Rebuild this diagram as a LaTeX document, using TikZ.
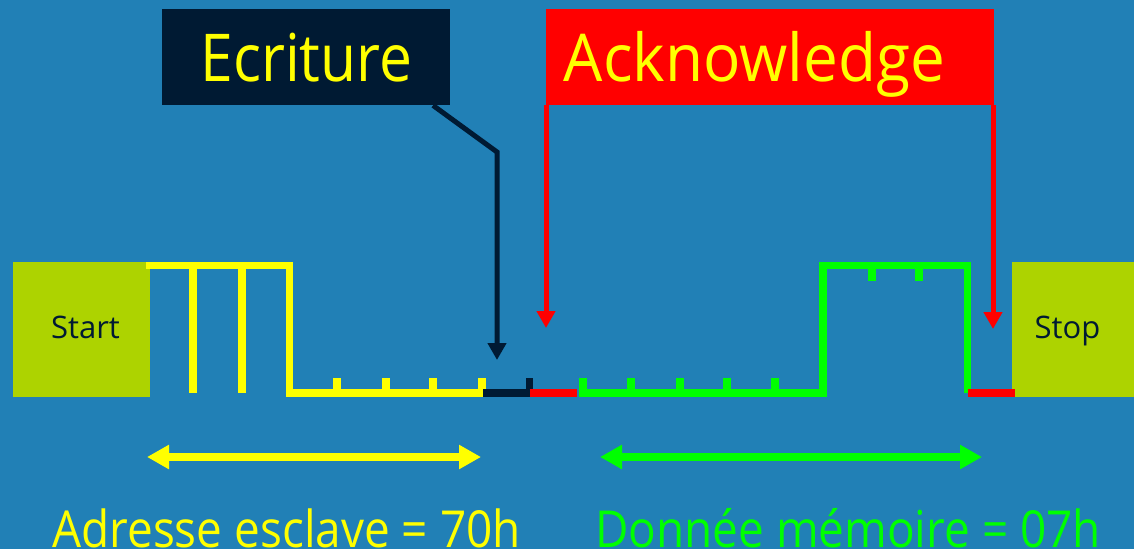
\documentclass[tikz,border=0pt]{standalone}
\usepackage{fontspec}
\setmainfont{Open Sans}
\usetikzlibrary{arrows.meta}
\definecolor{bg}{RGB}{33,128,182}
\definecolor{lime}{RGB}{173,211,0}
\definecolor{navy}{RGB}{0,26,51}
\definecolor{sigyellow}{RGB}{255,255,0}
\definecolor{siggreen}{RGB}{0,255,0}
\definecolor{sigred}{RGB}{255,0,0}
\tikzset{
  box/.style={draw=none, inner sep=0pt, anchor=north west},
  sig/.style={line width=7.5pt, line join=miter, line cap=butt},
  tick/.style={line width=7.5pt, line cap=butt},
  pointer/.style={line width=5pt, -{Triangle[width=18pt,length=17pt]}},
  span/.style={line width=8pt, {Triangle[width=23pt,length=22pt]}-{Triangle[width=23pt,length=22pt]}},
  bigtxt/.style={text=sigyellow, anchor=base, inner sep=0pt, font=\fontsize{66}{66}\selectfont},
  boxtxt/.style={text=navy, anchor=base, inner sep=0pt, font=\fontsize{31}{31}\selectfont},
  captxt/.style={anchor=base, inner sep=0pt, font=\fontsize{51}{51}\selectfont},
}
\begin{document}
\begin{tikzpicture}[x=1pt,y=-1pt]
\useasboundingbox (0,0) rectangle (1134,549);
\fill[bg] (0,0) rectangle (1134,549);
% boxes
\node[box, fill=navy, minimum width=288pt, minimum height=96pt] (ecr) at (162,9) {};
\node[box, fill=sigred, minimum width=448pt, minimum height=96pt] (ack) at (546,9) {};
\node[box, fill=lime, minimum width=137pt, minimum height=135pt] (start) at (13,262) {};
\node[box, fill=lime, minimum width=122pt, minimum height=135pt] (stop) at (1012,262) {};
\node[bigtxt] (ecrt) at (306.5,81) {\scalebox{0.89}[1]{Ecriture}};
\node[bigtxt] (ackt) at (754.5,81) {\scalebox{0.94}[1]{Acknowledge}};
\node[boxtxt] (startt) at (85.5,338) {Start};
\node[boxtxt] (stopt) at (1067.5,338) {Stop};
% yellow address signal
\draw[sig, sigyellow] (146,265.5) -- (289.5,265.5) -- (289.5,393) -- (483,393);
\draw[tick, sigyellow] (193,265.5) -- (193,393);
\draw[tick, sigyellow] (242,265.5) -- (242,393);
\foreach \x in {337,386,433,482}
  \draw[tick, sigyellow] (\x,378) -- (\x,393);
% R/W bit
\draw[sig, navy] (483,393) -- (529.5,393) -- (529.5,378);
% ack bits
\draw[sig, sigred] (529.5,393) -- (577,393);
% green data signal
\draw[sig, siggreen] (583,378) -- (583,393) -- (823,393) -- (823,265.5) -- (967.5,265.5) -- (967.5,393);
\foreach \x in {631,680,727,775}
  \draw[tick, siggreen] (\x,378) -- (\x,393);
\foreach \x in {872,919}
  \draw[tick, siggreen] (\x,265.5) -- (\x,281);
\draw[sig, sigred] (967.5,393) -- (1014.5,393);
% pointers
\coordinate (e0) at (433,105);
\coordinate (e1) at (497,152);
\coordinate (e2) at (497,360);
\coordinate (a1) at (546,328);
\coordinate (a2) at (993,329);
\draw[pointer, navy] (ecr.south -| e0) -- (e1) -- (e2);
\draw[pointer, sigred] (ack.south -| a1) -- (a1);
\draw[pointer, sigred] (ack.south -| a2) -- (a2);
% spans
\coordinate (y0) at (147,457);
\coordinate (y1) at (481,457);
\coordinate (g0) at (600,457);
\coordinate (g1) at (982,457);
\draw[span, sigyellow] (y0) -- (y1);
\draw[span, siggreen] (g0) -- (g1);
\node[captxt, text=sigyellow] (adr) at (286.5,547) {\scalebox{0.9}[1]{Adresse esclave = 70h}};
\node[captxt, text=siggreen] (don) at (848,547) {\scalebox{0.9}[1]{Donnée mémoire = 07h}};
\end{tikzpicture}
\end{document}
